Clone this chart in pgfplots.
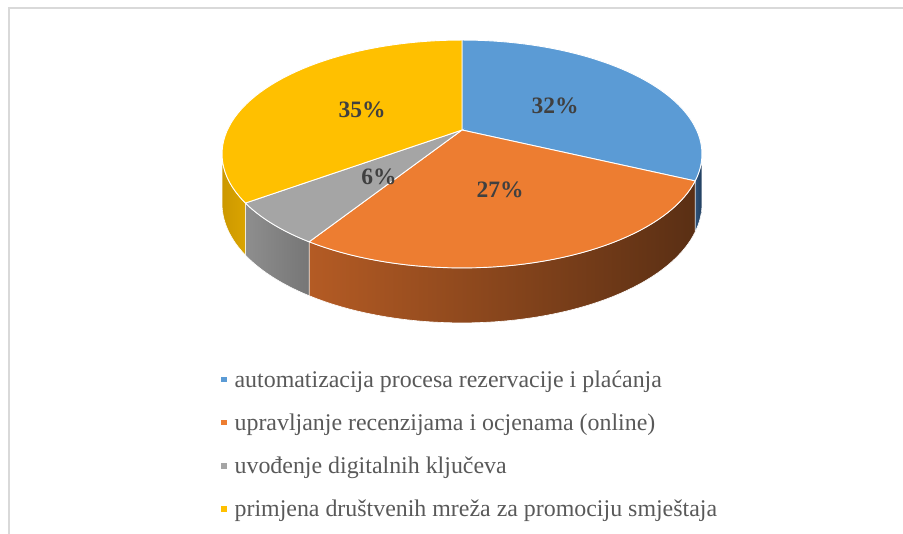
\documentclass[border=0pt]{standalone}
\usepackage{fontspec}
\setmainfont{Liberation Serif}
\usepackage{pgfplots}
\pgfplotsset{compat=1.18}
\definecolor{pblue}{HTML}{5B9BD5}
\definecolor{porange}{HTML}{ED7D31}
\definecolor{pgray}{HTML}{A5A5A5}
\definecolor{pyellow}{HTML}{FFC000}
\definecolor{framec}{HTML}{D9D9D9}
\definecolor{labc}{HTML}{404040}
\definecolor{legc}{HTML}{595959}
% data (percent)
\def\vA{32}\def\vB{27}\def\vC{6}\def\vD{35}
\begin{document}
\begin{tikzpicture}[declare function={
   pw(\t)=1+0.2105*cos(\t);
   px(\t)=462+234.6*sin(\t)/pw(\t);
   py(\t)=130-108.9*cos(\t)/pw(\t);
   pd(\t)=48-7*cos(\t);
 }]
\path[use as bounding box] (0,0) rectangle (903bp,534bp);
\pgfmathsetmacro\aA{0}
\pgfmathsetmacro\aB{\aA+3.6*\vA}
\pgfmathsetmacro\aC{\aB+3.6*\vB}
\pgfmathsetmacro\aD{\aC+3.6*\vC}
\pgfmathsetmacro\aE{\aD+3.6*\vD}
\pgfmathsetmacro\lo{102.2}
\pgfmathsetmacro\hi{257.8}
\begin{axis}[at={(0,0)}, anchor=south west, width=903bp, height=534bp,
  scale only axis, hide axis, xmin=0, xmax=903, ymin=0, ymax=534,
  y dir=reverse, clip=false,
  legend image code/.code={\fill[#1,draw=none] (0bp,-2.7bp) rectangle (5.4bp,2.7bp);},
  legend cell align=left,
  legend style={at={(axis cs:221,369)}, anchor=north west, draw=none, fill=none,
    inner sep=0pt, row sep=22.3bp, column sep=8bp,
    font=\fontsize{23.9bp}{28bp}\selectfont, text=legc,
    nodes={inner sep=0pt, text height=17.9bp, text depth=2.9bp}},
  side/.style={forget plot, draw=white, line width=0.6bp, variable=\s, domain=0:2.02, samples=102},
  top/.style={draw=white, line width=0.9bp, variable=\s, domain=-0.02:1, samples=52},
]
% ---- sides ----
\pgfmathsetmacro\ta{max(\aA,\lo)}\pgfmathsetmacro\tb{min(\aB,\hi)}
\addplot[side, left color={rgb,255:red,46;green,82;blue,122}, right color={rgb,255:red,34;green,62;blue,94}]
 ({\s<1.01 ? px(\ta+\s*(\tb-\ta)) : px(\tb-(\s-1.02)*(\tb-\ta))},
  {\s<1.01 ? py(\ta+\s*(\tb-\ta)) : py(\tb-(\s-1.02)*(\tb-\ta))+pd(\tb-(\s-1.02)*(\tb-\ta))}) -- cycle;
\pgfmathsetmacro\ta{max(\aB,\lo)}\pgfmathsetmacro\tb{min(\aC,\hi)}
\addplot[side, left color={rgb,255:red,180;green,91;blue,36}, middle color={rgb,255:red,108;green,56;blue,24}, right color={rgb,255:red,90;green,47;blue,20}]
 ({\s<1.01 ? px(\ta+\s*(\tb-\ta)) : px(\tb-(\s-1.02)*(\tb-\ta))},
  {\s<1.01 ? py(\ta+\s*(\tb-\ta)) : py(\tb-(\s-1.02)*(\tb-\ta))+pd(\tb-(\s-1.02)*(\tb-\ta))}) -- cycle;
\pgfmathsetmacro\ta{max(\aC,\lo)}\pgfmathsetmacro\tb{min(\aD,\hi)}
\addplot[side, left color={rgb,255:red,142;green,142;blue,142}, right color={rgb,255:red,118;green,118;blue,118}]
 ({\s<1.01 ? px(\ta+\s*(\tb-\ta)) : px(\tb-(\s-1.02)*(\tb-\ta))},
  {\s<1.01 ? py(\ta+\s*(\tb-\ta)) : py(\tb-(\s-1.02)*(\tb-\ta))+pd(\tb-(\s-1.02)*(\tb-\ta))}) -- cycle;
\pgfmathsetmacro\ta{max(\aD,\lo)}\pgfmathsetmacro\tb{min(\aE,\hi)}
\addplot[side, left color={rgb,255:red,204;green,152;blue,0}, right color={rgb,255:red,218;green,164;blue,0}]
 ({\s<1.01 ? px(\ta+\s*(\tb-\ta)) : px(\tb-(\s-1.02)*(\tb-\ta))},
  {\s<1.01 ? py(\ta+\s*(\tb-\ta)) : py(\tb-(\s-1.02)*(\tb-\ta))+pd(\tb-(\s-1.02)*(\tb-\ta))}) -- cycle;
% ---- top wedges ----
\pgfmathsetmacro\ta{\aA}\pgfmathsetmacro\tb{\aB}
\addplot[top, fill=pblue]
 ({\s<-0.01 ? 462 : px(\ta+\s*(\tb-\ta))}, {\s<-0.01 ? 130 : py(\ta+\s*(\tb-\ta))}) -- cycle;
\addlegendentry{automatizacija procesa rezervacije i plaćanja}
\pgfmathsetmacro\ta{\aB}\pgfmathsetmacro\tb{\aC}
\addplot[top, fill=porange]
 ({\s<-0.01 ? 462 : px(\ta+\s*(\tb-\ta))}, {\s<-0.01 ? 130 : py(\ta+\s*(\tb-\ta))}) -- cycle;
\addlegendentry{upravljanje recenzijama i ocjenama (online)}
\pgfmathsetmacro\ta{\aC}\pgfmathsetmacro\tb{\aD}
\addplot[top, fill=pgray]
 ({\s<-0.01 ? 462 : px(\ta+\s*(\tb-\ta))}, {\s<-0.01 ? 130 : py(\ta+\s*(\tb-\ta))}) -- cycle;
\addlegendentry{uvođenje digitalnih ključeva}
\pgfmathsetmacro\ta{\aD}\pgfmathsetmacro\tb{\aE}
\addplot[top, fill=pyellow]
 ({\s<-0.01 ? 462 : px(\ta+\s*(\tb-\ta))}, {\s<-0.01 ? 130 : py(\ta+\s*(\tb-\ta))}) -- cycle;
\addlegendentry{primjena društvenih mreža za promociju smještaja}
% ---- labels ----
\begin{scope}[every node/.style={font=\bfseries\fontsize{23.5bp}{28bp}\selectfont, text=labc}]
\node at (axis cs:555,106) {\vA\%};
\node at (axis cs:500,190) {\vB\%};
\node at (axis cs:379,177) {\vC\%};
\node at (axis cs:362,110) {\vD\%};
\end{scope}
% ---- frame ----
\draw[framec, line width=1.3bp] (axis cs:9,545) -- (axis cs:9,8) -- (axis cs:915,8);
\end{axis}
\end{tikzpicture}
\end{document}
